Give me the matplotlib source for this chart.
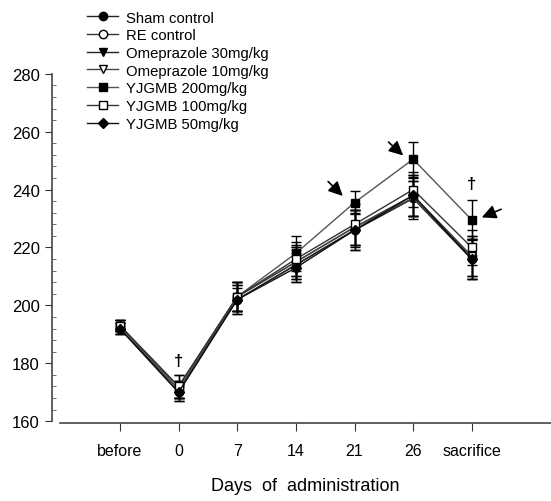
import matplotlib.pyplot as plt
from matplotlib.ticker import MultipleLocator

plt.rcParams['font.family'] = ['Liberation Sans', 'DejaVu Sans']

days = ["before", "0", "7", "14", "21", "26", "sacrifice"]

sham = [192, 170, 202, 214, 226, 237, 216]
re_ctrl = [193, 172, 203, 215, 227, 238, 217]
ome30 = [192, 171, 202, 214, 226, 237, 216]
ome10 = [193, 171, 203, 215, 227, 237, 217]
yj200 = [193, 171, 203, 218, 235.5, 250.5, 229.5]
yj100 = [193, 172, 203, 216, 228, 240, 220]
yj50 = [192, 170, 202, 213, 226, 238, 216]

sham_err = [2, 3, 5, 5, 6, 6, 7]
re_err = [2, 4, 5, 6, 6, 7, 7]
ome30_err = [2, 3, 5, 6, 7, 6, 7]
ome10_err = [2, 3, 5, 5, 6, 7, 7]
yj200_err = [2, 3, 5, 6, 4, 6, 7]
yj100_err = [2, 4, 5, 6, 7, 6, 6]
yj50_err = [2, 3, 4, 5, 7, 7, 7]

labels = ["Sham control", "RE control", "Omeprazole 30mg/kg", "Omeprazole 10mg/kg",
          "YJGMB 200mg/kg", "YJGMB 100mg/kg", "YJGMB 50mg/kg"]

fig = plt.figure(figsize=(5.51, 5.02), dpi=100)
ax = fig.add_axes([0.109, 0.159, 0.891, 0.692])

x = list(range(len(days)))
series = [
    (sham, sham_err, 'o', 'black', '#222222'),
    (re_ctrl, re_err, 'o', 'white', '#333333'),
    (ome30, ome30_err, 'v', 'black', '#222222'),
    (ome10, ome10_err, 'v', 'white', '#444444'),
    (yj200, yj200_err, 's', 'black', '#555555'),
    (yj100, yj100_err, 's', 'white', '#333333'),
    (yj50, yj50_err, 'D', 'black', '#111111'),
]

handles = []
for (vals, err, mk, fc, lc), lab in zip(series, labels):
    ax.errorbar(x, vals, yerr=err, fmt='none', ecolor='black', elinewidth=1,
                capsize=3.6, capthick=1, zorder=2)
    h, = ax.plot(x, vals, color=lc, lw=1, marker=mk, markersize=6 if mk != 'D' else 5,
                 markerfacecolor=fc, markeredgecolor='black', markeredgewidth=1,
                 label=lab, zorder=3)
    handles.append(h)

# significance marks
ax.text(1, 181, "\u2020", ha='center', va='center', fontsize=12, fontweight='bold')
ax.text(6, 242, "\u2020", ha='center', va='center', fontsize=12, fontweight='bold')

arrow = dict(arrowstyle='-|>,head_length=0.85,head_width=0.42', color='black', lw=1.2,
             shrinkA=0, shrinkB=0)
ax.annotate("", xy=(3.8, 237.8), xytext=(3.55, 242.8), arrowprops=arrow)
ax.annotate("", xy=(4.83, 251.8), xytext=(4.58, 256.4), arrowprops=arrow)
ax.annotate("", xy=(6.17, 230.4), xytext=(6.5, 233.2), arrowprops=arrow)

ax.set_xlim(-1.02, 7.35)
ax.set_ylim(160, 280)
ax.set_xticks(x)
ax.set_xticklabels(days)
ax.yaxis.set_major_locator(MultipleLocator(20))
ax.yaxis.set_minor_locator(MultipleLocator(4))
ax.tick_params(axis='y', which='major', direction='out', length=5, labelsize=12, color='#333333')
ax.tick_params(axis='y', which='minor', direction='in', length=3, color='#555555')
ax.tick_params(axis='x', direction='out', length=6, labelsize=11.5, pad=8, color='#333333')

ax.spines['top'].set_visible(False)
ax.spines['right'].set_visible(False)
ax.spines['left'].set_position(('outward', 6))
ax.spines['bottom'].set_position(('outward', 1.5))
for s in ('left', 'bottom'):
    ax.spines[s].set_color('#444444')
    ax.spines[s].set_linewidth(1.2)

ax.set_xlabel("Days  of  administration", fontsize=13, labelpad=14)

fig.legend(handles=handles, loc='upper left', bbox_to_anchor=(0.158, 0.977),
           frameon=False, fontsize=10.7, labelspacing=0.25, handlelength=2.1,
           handletextpad=0.55, borderpad=0, borderaxespad=0)

fig.savefig("out.png", dpi=100)
